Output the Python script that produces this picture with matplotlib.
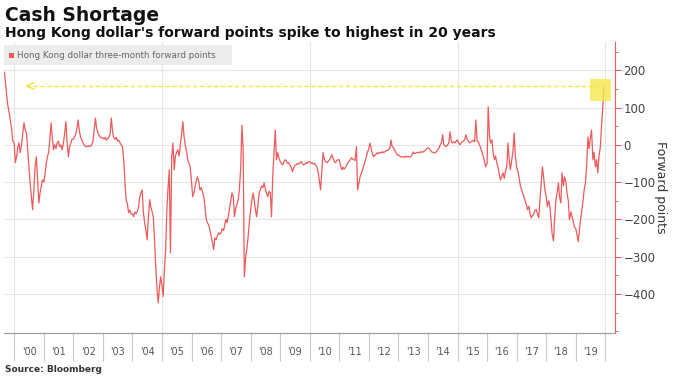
import matplotlib
matplotlib.use('Agg')
import matplotlib.pyplot as plt
import matplotlib.dates as mdates
from matplotlib.patches import Rectangle
from matplotlib.ticker import MultipleLocator, FixedLocator, FixedFormatter, NullFormatter
import pandas as pd

# HKD three-month forward points (1st / 15th)
fp_1999 = [195, 170, 130, 105, 85, 65, 40, 10]
fp_2000 = [5, -48, -30, -5, 5, -21, 0, 30, 59, 40, 32, -10, -59, -100, -140, -174, -120, -60, -32, -90, -156, -130, -110, -94]
fp_2001 = [-100, -80, -50, -32, -20, 10, 59, 20, -13, 0, -10, 5, 10, -5, 0, -13, 5, 30, 62, 10, -32, -5, 5, 15]
fp_2002 = [15, 21, 30, 45, 67, 40, 20, 13, 5, 0, -5, -3, -5, -2, -4, 0, 10, 40, 72, 45, 32, 25, 20, 19]
fp_2003 = [19, 15, 20, 12, 18, 19, 30, 72, 35, 19, 15, 20, 10, 13, 5, 0, -5, -40, -100, -147, -160, -182, -175, -185]
fp_2004 = [-185, -193, -180, -185, -179, -170, -140, -129, -121, -180, -210, -228, -255, -200, -147, -166, -180, -193, -260, -327, -390, -424, -380, -354]
fp_2005 = [-380, -407, -330, -281, -180, -121, -67, -290, -32, 5, -67, -30, -20, -13, -30, 0, 30, 62, 21, 0, -20, -40, -50, -59]
fp_2006 = [-100, -139, -129, -110, -95, -86, -100, -121, -115, -125, -139, -165, -200, -209, -215, -228, -247, -260, -281, -250, -255, -245, -236, -240]
fp_2007 = [-236, -225, -230, -215, -200, -209, -190, -170, -150, -129, -140, -193, -170, -160, -147, -120, -60, 53, -13, -354, -300, -280, -247, -210]
fp_2008 = [-174, -150, -129, -150, -175, -193, -160, -130, -120, -110, -115, -102, -120, -130, -139, -125, -129, -193, -80, -25, 40, -40, -21, -35]
fp_2009 = [-45, -50, -54, -45, -40, -42, -50, -48, -55, -60, -72, -62, -55, -54, -50, -52, -48, -45, -50, -54, -52, -48, -50, -45]
fp_2010 = [-45, -50, -48, -52, -50, -54, -60, -75, -100, -121, -62, -21, -40, -45, -48, -45, -40, -35, -27, -35, -45, -48, -42, -40]
fp_2011 = [-40, -55, -67, -60, -65, -62, -55, -48, -45, -40, -35, -38, -40, -42, -5, -121, -100, -86, -75, -67, -55, -45, -32, -20]
fp_2012 = [-10, 5, -13, -25, -32, -28, -25, -21, -24, -20, -22, -18, -21, -19, -16, -15, -13, -10, 13, -5, -8, -15, -20, -27]
fp_2013 = [-27, -30, -33, -32, -32, -34, -30, -32, -31, -33, -32, -28, -19, -24, -22, -21, -20, -22, -18, -20, -19, -17, -14, -10]
fp_2014 = [-8, -10, -15, -19, -20, -21, -22, -18, -13, -10, 0, 5, 27, 0, -3, -5, 0, 5, 35, 10, 5, 8, 5, 10]
fp_2015 = [13, 5, 0, 5, 8, 10, 15, 27, 13, 10, 5, 8, 10, 12, 8, 67, 10, 8, 0, -10, -20, -32, -45, -59]
fp_2016 = [-50, 102, 20, 5, 13, -20, -40, -30, -50, -60, -80, -94, -85, -75, -90, -70, -60, 5, -40, -67, -40, -20, 32, -30]
fp_2017 = [-60, -70, -90, -110, -120, -129, -140, -150, -160, -174, -165, -185, -196, -190, -185, -175, -174, -185, -196, -150, -100, -59, -90, -120]
fp_2018 = [-139, -166, -150, -166, -200, -240, -258, -200, -147, -130, -102, -140, -156, -75, -110, -86, -100, -129, -150, -201, -180, -193, -205, -220]
fp_2019 = [-225, -240, -260, -230, -200, -180, -150, -120, -102, -60, 21, -10, 20, 40, -40, -20, -59, -40, -75, -30, -5, 48, 100, 158]

values = (fp_1999 + fp_2000 + fp_2001 + fp_2002 + fp_2003 + fp_2004 + fp_2005
          + fp_2006 + fp_2007 + fp_2008 + fp_2009 + fp_2010 + fp_2011 + fp_2012
          + fp_2013 + fp_2014 + fp_2015 + fp_2016 + fp_2017 + fp_2018 + fp_2019)
dates = pd.date_range('1999-09-01', periods=len(values), freq='SMS')

years = list(range(2000, 2020))
year_labels = ["'%02d" % (y % 100) for y in years]
y_ticks = [-400, -300, -200, -100, 0, 100, 200]

RED = '#ef5a5a'
W, H = 680, 378

fig = plt.figure(figsize=(W / 100, H / 100), dpi=100)
ax = fig.add_axes([4 / W, (H - 333) / H, (615 - 4) / W, (333 - 42) / H])

ax.plot(dates, values, color=RED, linewidth=0.9)

ax.set_xlim(pd.Timestamp('1999-08-28'), pd.Timestamp('2020-04-30'))
ax.set_ylim(-505, 276)

# grid
ax.yaxis.set_major_locator(FixedLocator(y_ticks))
ax.yaxis.set_minor_locator(MultipleLocator(50))
ax.yaxis.grid(True, color='#e6e6e6', linewidth=0.8)
for y in range(2000, 2021, 5):
    ax.axvline(pd.Timestamp(f'{y}-01-01'), color='#e6e6e6', linewidth=0.8, zorder=0)
ax.set_axisbelow(True)

# x axis: long ticks at year boundaries, labels centred in each year
ax.xaxis.set_major_locator(mdates.YearLocator())
ax.xaxis.set_major_formatter(NullFormatter())
ax.xaxis.set_minor_locator(FixedLocator(mdates.date2num([pd.Timestamp(f'{y}-07-02') for y in years])))
ax.xaxis.set_minor_formatter(FixedFormatter(year_labels))
ax.tick_params(axis='x', which='major', length=20, width=0.8, color='#c8c8c8', direction='out')
ax.tick_params(axis='x', which='minor', length=0, pad=10, labelsize=7, labelcolor='#555555')

# right y axis
ax.yaxis.tick_right()
ax.yaxis.set_label_position('right')
ax.tick_params(axis='y', which='major', length=4, width=0.8, color=RED, pad=2,
               labelsize=8.5, labelcolor='#444444')
ax.tick_params(axis='y', which='minor', length=2, width=0.6, color=RED)
ax.set_ylabel('Forward points', rotation=270, labelpad=8, fontsize=9, color='#333333')

for s in ['top', 'left']:
    ax.spines[s].set_visible(False)
ax.spines['right'].set_color(RED)
ax.spines['right'].set_linewidth(0.8)
ax.spines['bottom'].set_color('#999999')
ax.spines['bottom'].set_linewidth(0.8)

# highlight of the latest spike
peak = values[-1]
last = dates[-1]
ax.plot([pd.Timestamp('2000-05-20'), last], [peak, peak], color='#f2e635',
        linewidth=1.0, linestyle=(0, (3, 2)))
ax.annotate('', xy=(pd.Timestamp('2000-04-15'), peak), xytext=(pd.Timestamp('2000-08-01'), peak),
            arrowprops=dict(arrowstyle='->,head_length=0.5,head_width=0.25', color='#f2e635', lw=1.0))
x0 = mdates.date2num(pd.Timestamp('2019-06-28'))
x1 = mdates.date2num(pd.Timestamp('2020-03-10'))
ax.add_patch(Rectangle((x0, 118), x1 - x0, 59, facecolor='#f6e74e', alpha=0.8,
                       edgecolor='none', zorder=3))

# legend strip
fig.patches.append(Rectangle((4 / W, 1 - 65 / H), 228 / W, 20 / H, transform=fig.transFigure,
                             facecolor='#ececec', edgecolor='none', zorder=1))
fig.patches.append(Rectangle((9 / W, 1 - 58 / H), 5 / W, 5 / H, transform=fig.transFigure,
                             facecolor=RED, edgecolor='none', zorder=2))
fig.text(17 / W, 1 - 55.5 / H, 'Hong Kong dollar three-month forward points',
         fontsize=6.3, color='#666666', va='center', ha='left')

# titles and source
fig.text(5 / W, 1 - 21 / H, 'Cash Shortage', fontsize=13.5, fontweight='bold',
         color='#111111', va='baseline')
fig.text(5 / W, 1 - 37 / H, "Hong Kong dollar's forward points spike to highest in 20 years",
         fontsize=10, fontweight='bold', color='#111111', va='baseline')
fig.text(5 / W, 1 - 372 / H, 'Source: Bloomberg', fontsize=6.5, fontweight='bold',
         color='#333333', va='baseline')

fig.savefig('out.png', dpi=100)
